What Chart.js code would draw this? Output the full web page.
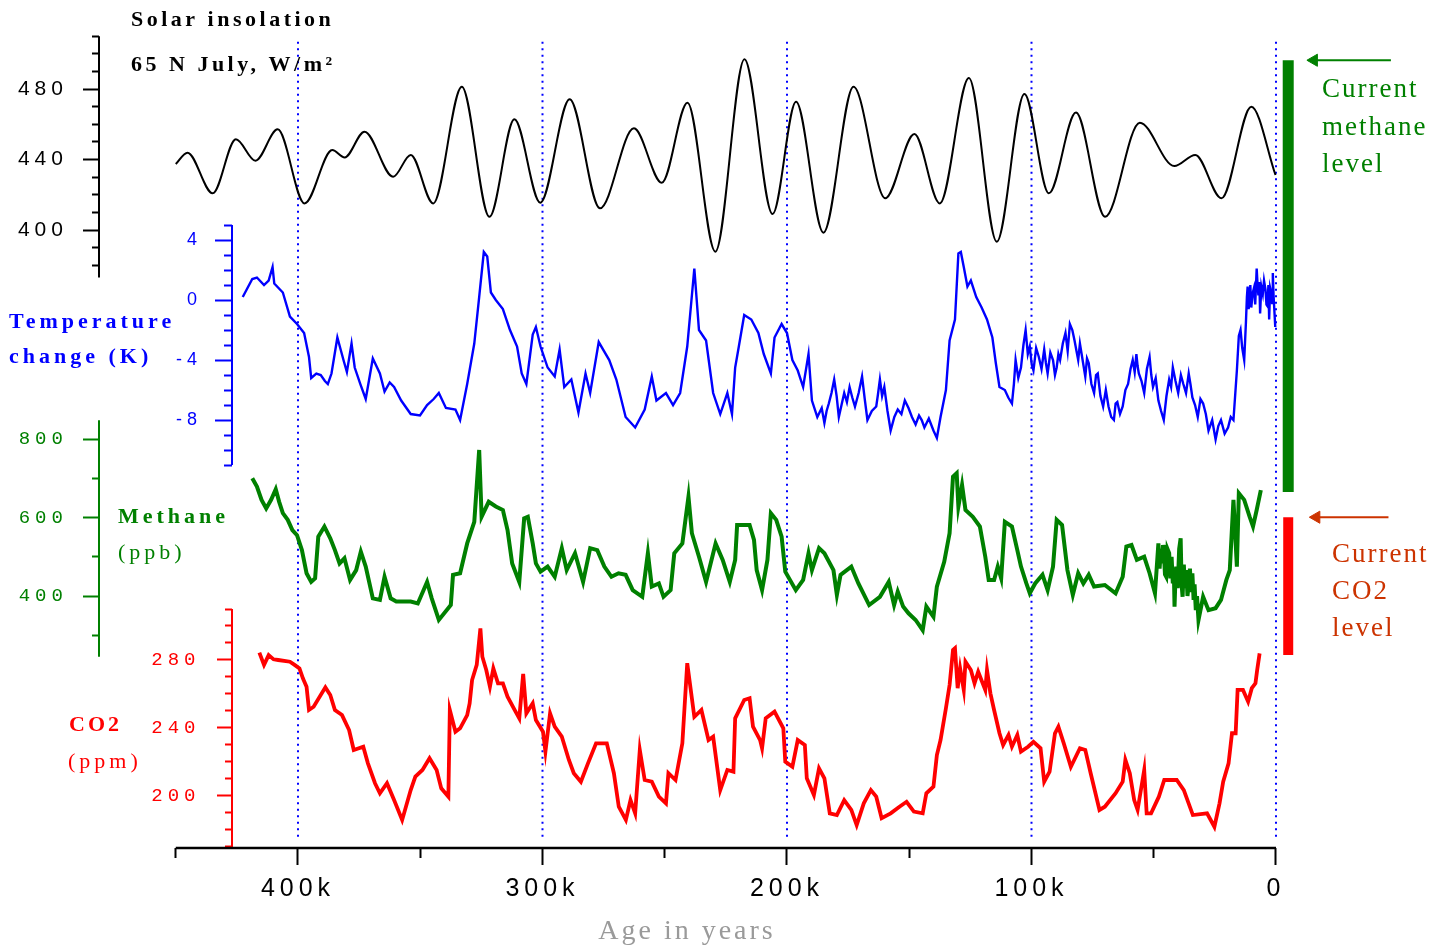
<!DOCTYPE html>
<html>
<head>
<meta charset="utf-8">
<title>Vostok ice core: insolation, temperature, methane and CO2</title>
<script src="https://cdn.jsdelivr.net/npm/chart.js@4.4.1/dist/chart.umd.min.js"></script>
<style>
  html, body { margin: 0; padding: 0; background: #fff; }
  #wrap { width: 1437px; height: 950px; position: relative; }
</style>
</head>
<body>
<div id="wrap"><canvas id="vostok"></canvas></div>
<script>
// ---- Series: [age in thousands of years, value] ----
const solarWm2 = [
  [450,437.4],[445.2,443.9],[434.9,420.8],[425.4,451.5],[417.4,439.3],[408.3,457.1],[397.3,415.1],
  [386.0,445.4],[380.9,441.2],[372.8,455.8],[361.1,430.2],[353.9,442.6],[344.7,415.1],[333.0,481.3],
  [321.7,407.5],[311.5,462.8],[300.9,415.5],[288.9,474.2],[276.5,412.3],[262.6,457.7],[251.2,426.8],
  [240.7,472.2],[229.3,387.7],[217.4,496.9],[205.9,409.1],[196.3,472.8],[185.1,398.5],[172.8,481.3],
  [159.8,418.0],[147.9,454.5],[137.5,415.1],[125.6,486.2],[114.2,393.4],[102.9,477.2],[92.9,420.8],
  [81.8,466.6],[69.9,407.5],[55.7,460.9],[41.6,436.3],[33.0,442.6],[22.3,418.0],[10.1,470.0],[0.2,431.2]
];

const temperatureK = [
  [422.6,0.2],[418.7,1.4],[416.8,1.5],[413.9,1.0],[412.0,1.3],[410.4,2.2],[409.7,1.1],[406.2,0.5],
  [403.3,-1.1],[400.4,-1.6],[397.5,-2.2],[395.5,-3.8],[394.6,-5.2],[392.5,-4.9],[390.7,-5.0],[389.0,-5.4],
  [387.8,-5.6],[386.3,-4.9],[383.9,-2.5],[381.4,-4.0],[380.0,-4.8],[378.1,-2.9],[376.8,-4.5],[374.5,-5.6],
  [372.3,-6.6],[369.4,-3.9],[366.5,-4.9],[364.6,-6.1],[362.5,-5.5],[360.7,-5.8],[357.8,-6.7],[353.9,-7.6],
  [350.1,-7.7],[347.2,-7.0],[344.5,-6.6],[342.4,-6.2],[339.5,-7.2],[335.6,-7.3],[333.7,-8.0],[330.8,-5.6],
  [327.9,-2.9],[325.9,0.2],[324.0,3.2],[322.6,2.9],[321.1,0.5],[319.1,0.0],[316.2,-0.6],[313.3,-2.0],
  [310.4,-3.1],[308.5,-4.9],[306.6,-5.6],[304.0,-2.3],[302.7,-1.8],[300.8,-3.1],[297.9,-4.5],[295.0,-5.1],
  [293.0,-3.3],[291.1,-5.8],[288.2,-5.3],[285.3,-7.5],[282.4,-4.9],[280.5,-6.2],[277.0,-2.8],[272.7,-4.0],
  [269.8,-5.3],[266.0,-7.8],[262.1,-8.5],[258.2,-7.3],[255.3,-5.1],[253.4,-6.7],[249.5,-6.2],[246.6,-7.0],
  [243.7,-6.2],[240.8,-3.1],[237.9,2.1],[236.0,-2.0],[233.1,-2.7],[230.2,-6.2],[227.3,-7.6],[224.4,-6.2],
  [222.5,-7.6],[221.2,-4.5],[219.7,-3.1],[217.5,-1.0],[214.6,-1.3],[211.7,-2.2],[209.5,-3.6],[206.6,-4.9],
  [205.1,-2.5],[202.2,-1.6],[200.0,-2.2],[197.8,-4.0],[195.6,-4.7],[193.4,-5.8],[191.2,-3.6],[189.8,-6.7],
  [187.6,-7.8],[185.8,-7.2],[184.7,-8.2],[183.8,-7.4],[182.9,-6.9],[181.8,-6.2],[180.7,-5.3],[179.7,-6.4],
  [178.8,-7.8],[177.7,-7.0],[176.6,-6.2],[175.5,-6.8],[174.4,-5.8],[173.3,-6.5],[172.2,-7.1],[170.7,-6.2],
  [169.3,-5.1],[168.2,-6.6],[167.1,-8.0],[165.3,-7.4],[163.5,-7.1],[162.8,-6.3],[162.0,-5.3],[161.1,-6.4],
  [160.2,-5.8],[158.9,-7.4],[157.6,-8.7],[156.1,-7.8],[154.7,-7.3],[153.2,-7.6],[151.8,-6.7],[150.3,-7.2],
  [148.9,-7.8],[147.4,-8.3],[146.0,-7.7],[144.9,-8.0],[143.8,-8.5],[142.0,-7.9],[140.1,-8.7],[138.7,-9.2],
  [137.2,-7.8],[135.0,-6.0],[133.5,-2.7],[131.3,-1.3],[129.9,3.1],[128.9,3.2],[127.7,2.2],[126.2,0.9],
  [124.8,1.3],[122.6,0.2],[120.4,-0.5],[118.2,-1.3],[116.0,-2.5],[114.6,-4.2],[113.1,-5.8],[110.9,-6.0],
  [109.5,-6.5],[108.0,-6.9],[107.2,-5.6],[106.5,-4.0],[105.4,-5.2],[104.3,-4.5],[103.3,-3.0],[102.4,-2.0],
  [101.5,-3.6],[100.7,-3.1],[99.9,-4.3],[99.2,-4.7],[98.1,-3.2],[97.0,-3.8],[95.9,-4.6],[94.8,-3.3],
  [94.1,-4.2],[93.4,-4.9],[92.3,-3.5],[91.2,-4.0],[90.4,-5.0],[89.7,-4.5],[89.0,-3.6],[88.3,-4.0],
  [87.2,-2.9],[86.1,-2.2],[85.2,-3.4],[84.3,-1.6],[83.3,-2.0],[82.4,-2.7],[81.6,-3.4],[80.9,-4.0],
  [80.2,-2.9],[79.5,-3.6],[78.7,-4.4],[78.0,-5.1],[77.3,-3.9],[76.6,-4.2],[75.5,-5.6],[74.4,-6.2],
  [73.6,-5.0],[72.9,-4.9],[71.8,-6.4],[70.7,-7.1],[69.6,-6.0],[68.5,-7.1],[67.4,-7.8],[66.3,-8.0],
  [65.6,-6.9],[64.9,-6.8],[63.8,-7.6],[62.7,-7.1],[61.6,-6.0],[60.5,-5.6],[59.5,-4.6],[58.6,-4.0],
  [57.8,-4.8],[57.1,-3.6],[56.6,-4.4],[56.1,-4.9],[55.0,-5.4],[53.9,-6.2],[52.8,-4.6],[51.7,-3.8],
  [51.0,-5.0],[50.3,-5.8],[49.2,-5.2],[48.1,-6.7],[47.0,-7.4],[45.9,-8.0],[44.8,-6.4],[43.7,-5.3],
  [42.9,-5.8],[42.2,-4.5],[41.1,-5.4],[40.0,-6.2],[38.9,-5.0],[37.9,-5.6],[36.8,-6.2],[35.7,-4.9],
  [35.0,-5.6],[34.2,-6.5],[33.1,-7.0],[32.0,-7.8],[30.9,-6.6],[29.8,-6.9],[28.7,-7.6],[27.6,-8.7],
  [26.1,-8.0],[24.7,-9.3],[23.6,-8.4],[22.5,-8.0],[21.0,-8.9],[19.6,-8.5],[18.5,-7.8],[17.4,-8.0],
  [16.0,-4.7],[15.2,-2.4],[14.5,-2.0],[13.8,-3.2],[13.0,-4.0],[12.3,-1.5],[11.9,0.2],[11.6,0.9],
  [11.2,-0.6],[10.9,-0.2],[10.5,1.0],[10.1,-0.5],[9.6,0.4],[9.0,0.8],[8.5,-0.3],[7.9,2.1],
  [7.5,0.9],[7.2,0.3],[6.8,1.2],[6.5,-0.9],[6.0,0.9],[5.4,0.4],[4.9,1.3],[4.3,0.7],
  [3.9,-0.3],[3.5,-0.4],[3.1,1.0],[2.8,-1.3],[2.4,0.8],[2.0,0.5],[1.6,-0.2],[1.3,1.8],
  [1.0,0.3],[0.7,-0.6],[0.3,-1.8]
];

const methanePpb = [
  [418.7,700],[416.8,679],[414.9,645],[413.0,623],[411.0,645],[409.1,672],[407.7,640],[406.2,611],
  [404.2,594],[402.3,568],[400.4,555],[398.4,517],[396.5,458],[394.6,436],[393.0,445],[391.7,551],
  [389.2,577],[386.8,547],[384.9,517],[383.0,483],[381.0,496],[378.7,441],[376.2,466],[374.3,513],
  [372.3,475],[369.4,394],[366.5,390],[364.6,449],[362.1,394],[359.8,386],[353.9,386],[351.0,381],
  [347.2,436],[345.3,394],[342.4,339],[337.5,377],[336.6,454],[333.7,458],[330.8,534],[327.9,589],
  [325.9,772],[324.9,602],[322.0,640],[319.1,628],[316.2,619],[314.3,568],[312.4,483],[309.5,436],
  [307.5,598],[306.0,602],[304.0,534],[302.7,483],[300.8,462],[297.9,475],[295.0,449],[292.1,522],
  [290.1,466],[286.7,509],[283.4,436],[280.5,522],[277.6,517],[274.7,475],[271.8,449],[268.9,458],
  [266.0,454],[263.1,415],[259.2,398],[256.9,509],[255.3,424],[252.4,432],[250.5,398],[247.6,415],
  [246.1,509],[242.8,534],[240.3,653],[238.9,560],[236.0,500],[233.1,436],[229.2,534],[226.3,492],
  [223.4,436],[221.2,492],[220.4,581],[215.3,581],[213.5,543],[212.4,466],[210.2,415],[208.0,492],
  [206.6,611],[204.4,594],[202.2,551],[200.7,462],[196.4,415],[193.4,441],[191.2,509],[189.8,466],
  [186.9,522],[184.7,509],[181.0,466],[179.6,403],[178.1,454],[173.7,475],[170.8,432],[166.4,377],
  [162.0,398],[158.4,436],[156.2,377],[154.7,411],[152.5,373],[150.3,356],[147.4,339],[144.5,313],
  [143.0,373],[140.1,347],[138.7,424],[135.7,487],[133.5,560],[132.1,704],[130.6,713],[129.9,628],
  [128.4,683],[127.0,619],[124.0,602],[121.1,577],[118.9,500],[117.5,441],[115.3,441],[113.8,475],
  [112.4,445],[110.9,589],[108.0,577],[105.8,517],[104.3,475],[102.1,432],[100.7,407],[98.5,432],
  [95.5,454],[93.4,415],[91.2,475],[89.7,594],[87.5,581],[85.3,466],[83.1,403],[80.9,458],
  [78.8,432],[76.6,454],[74.4,424],[70.0,428],[65.6,407],[62.7,449],[61.2,526],[59.1,530],
  [56.9,492],[53.9,500],[51.7,458],[49.5,407],[48.1,534],[47.6,470],[47.1,520],[46.6,483],
  [46.2,530],[45.9,517],[45.4,455],[44.9,449],[44.4,520],[43.7,509],[43.2,445],[42.7,500],
  [42.2,432],[41.8,470],[41.5,373],[41.1,450],[40.8,475],[40.2,420],[39.6,520],[39.0,547],
  [38.6,430],[38.2,398],[37.7,480],[37.2,420],[36.7,466],[36.2,400],[35.7,432],[35.2,470],
  [34.7,410],[34.2,458],[33.7,390],[33.3,430],[32.8,364],[32.3,400],[31.7,339],[29.8,398],
  [27.6,364],[24.7,369],[22.5,390],[20.3,441],[18.9,466],[17.4,645],[16.0,475],[15.2,662],
  [13.0,645],[10.8,602],[9.4,577],[7.9,619],[6.2,670]
];

const co2Ppm = [
  [415.8,284.3],[413.9,277.1],[412.0,282.9],[410.0,280.4],[408.1,280.0],[403.3,279.0],[401.4,277.1],
  [399.4,275.1],[398.0,269.2],[396.5,264.3],[395.5,250.6],[393.6,252.5],[388.8,263.9],[386.8,259.4],
  [384.9,250.6],[382.0,247.6],[379.1,238.8],[377.2,227.1],[373.3,229.0],[371.4,219.2],[368.5,207.5],
  [366.5,201.6],[363.6,207.5],[360.7,197.6],[357.4,185.9],[353.9,203.5],[352.0,211.4],[349.1,215.3],
  [346.2,222.2],[343.3,215.3],[341.4,204.5],[338.5,199.6],[337.9,250.6],[335.6,237.8],[333.7,239.8],
  [330.8,247.6],[329.8,254.5],[328.8,268.2],[326.9,277.1],[325.4,298.6],[324.6,281.9],[323.0,274.1],
  [321.5,264.3],[320.1,275.1],[318.2,266.3],[316.2,266.3],[314.3,258.4],[311.4,250.6],[309.5,245.7],
  [307.9,271.8],[306.6,248.6],[304.0,254.5],[302.7,244.7],[299.8,237.8],[298.8,226.1],[296.9,248.6],
  [295.0,240.8],[292.1,234.9],[289.2,221.2],[287.2,213.4],[284.3,208.4],[281.4,219.2],[278.1,231.0],
  [273.7,231.0],[270.8,213.4],[268.8,193.7],[265.9,185.9],[264.0,197.6],[262.1,189.8],[260.2,227.1],
  [258.2,209.4],[255.3,208.4],[252.4,199.6],[249.5,195.7],[248.5,213.4],[245.6,209.4],[242.8,231.0],
  [240.8,278.1],[237.9,246.6],[235.0,250.6],[232.1,232.9],[230.2,234.9],[227.3,203.5],[224.4,215.3],
  [221.9,214.3],[221.2,245.7],[217.5,256.5],[215.3,257.5],[213.9,240.8],[211.0,232.9],[210.2,228.1],
  [208.7,245.7],[205.1,249.6],[201.5,239.8],[200.7,220.2],[197.8,217.2],[195.6,232.9],[192.7,230.0],
  [191.9,210.4],[189.0,200.6],[186.9,216.3],[184.7,210.4],[182.5,189.8],[179.6,188.8],[176.6,197.6],
  [173.7,191.8],[171.5,182.9],[168.6,195.7],[165.7,203.5],[163.5,199.6],[161.3,186.9],[157.6,189.8],
  [154.0,193.7],[151.1,196.6],[148.1,190.8],[144.5,189.8],[143.0,201.6],[140.1,205.5],[138.7,224.1],
  [137.2,232.9],[135.0,251.6],[133.5,265.3],[132.1,285.9],[131.3,286.9],[130.2,263.4],[129.2,275.1],
  [127.7,262.4],[127.0,279.0],[124.8,274.1],[123.3,266.3],[121.8,273.1],[118.9,262.4],[118.2,274.1],
  [116.8,260.4],[115.3,250.6],[113.1,236.9],[111.6,230.0],[109.4,235.9],[108.0,229.0],[105.8,235.9],
  [104.3,226.1],[101.4,229.0],[99.2,231.9],[96.3,228.1],[94.8,208.4],[92.6,214.3],[90.4,236.9],
  [89.0,240.8],[86.8,231.0],[83.9,217.2],[80.2,228.1],[78.0,227.1],[75.8,213.4],[72.2,191.8],
  [70.0,193.7],[65.6,201.6],[62.7,208.4],[61.6,221.2],[59.8,213.4],[58.0,197.6],[56.6,191.8],
  [53.9,215.3],[52.9,189.8],[51.1,189.8],[47.9,199.6],[45.7,209.4],[40.6,209.4],[37.7,203.5],
  [34.0,188.8],[28.2,189.8],[25.2,181.9],[23.1,195.7],[21.6,208.4],[19.4,219.2],[18.0,236.9],
  [16.5,236.9],[15.7,262.4],[13.5,262.4],[11.4,255.5],[9.9,263.4],[8.4,266.3],[7.7,274.1],[6.7,283.9]
];

// Present-day levels, shown as bars beside the records
const methaneCurrentRange = [665, 1765];   // ppb
const co2CurrentRange = [283, 364];        // ppm
const currentBarAge = -5;                  // ka, just right of "0"

// Ages marked by dotted reference lines
const markerAges = [400, 300, 200, 100, 0];

// Tick values
const xMajorTicks = [400, 300, 200, 100, 0];
const xMinorTicks = [450, 350, 250, 150, 50];
const solarMajorTicks = [480, 440, 400];
const solarMinorTicks = [510, 500, 490, 470, 460, 450, 430, 420, 410, 390, 380];
const tempMajorTicks = [4, 0, -4, -8];
const tempMinorTicks = [5, 3, 2, 1, -1, -2, -3, -5, -6, -7, -9, -10, -11];
const ch4MajorTicks = [800, 600, 400];
const ch4MinorTicks = [700, 500, 300];
const co2MajorTicks = [280, 240, 200];
const co2MinorTicks = [310, 300, 290, 270, 260, 250, 230, 220, 210, 190, 180, 170];

// ---- Layout of the stacked panels ----
const AGE_LEFT = 521.88, AGE_RIGHT = -65.85;    // time scale spans the full canvas width
const BLUE = '#0000ff', GREEN = '#008000', RED = '#ff0000', RUST = '#cc3300';
const SANS = "'Liberation Sans', Arial, sans-serif";
const MONO = "'Liberation Mono', 'Courier New', monospace";
const SERIF = "'Liberation Serif', 'Times New Roman', serif";

const toPoints = arr => arr.map(([a, v]) => ({ x: a, y: v }));

function noPadding(s) { s.paddingTop = 0; s.paddingBottom = 0; s.paddingLeft = 0; s.paddingRight = 0; }

// One value axis = major tick marks, minor tick marks and a label column
function valueAxis(id, o) {
  const base = { type: 'linear', axis: 'y', min: o.min, max: o.max, border: { display: false }, afterFit: noPadding };
  const tickScale = (vals, len) => Object.assign({}, base, {
    position: { x: o.at },
    afterBuildTicks: s => { s.ticks = vals.map(v => ({ value: v })); },
    grid: { display: true, drawOnChartArea: false, drawTicks: true, tickLength: len, tickWidth: 2, tickColor: o.color },
    ticks: { display: false }
  });
  return {
    [id]: tickScale(o.major, o.majorLen),
    [id + 'Minor']: tickScale(o.minor, o.minorLen),
    [id + 'Labels']: Object.assign({}, base, {
      position: { x: o.labelAt },
      afterBuildTicks: s => { s.ticks = o.major.map(v => ({ value: v })); },
      grid: { display: false, drawTicks: false },
      ticks: { display: true, padding: 0, autoSkip: false, color: o.color, font: o.font, callback: v => String(v) }
    })
  };
}

const scales = Object.assign(
  {
    x: {
      type: 'linear', reverse: true, min: AGE_RIGHT, max: AGE_LEFT, position: 'bottom', weight: 1,
      afterBuildTicks: s => { s.ticks = xMajorTicks.map(v => ({ value: v })); },
      afterFit: s => { s.height = 102; noPadding(s); },
      border: { display: false },
      grid: { display: true, drawOnChartArea: false, drawTicks: true, tickLength: 17, tickWidth: 2, tickColor: '#000' },
      ticks: { autoSkip: false, maxRotation: 0, padding: 9, color: '#000', font: { family: SANS, size: 25 },
               callback: v => (v === 0 ? '0' : v + 'k') }
    },
    xMinor: {
      type: 'linear', reverse: true, min: AGE_RIGHT, max: AGE_LEFT, position: 'bottom', weight: 0,
      afterBuildTicks: s => { s.ticks = xMinorTicks.map(v => ({ value: v })); },
      afterFit: s => { s.height = 0; noPadding(s); },
      border: { display: false },
      grid: { display: true, drawOnChartArea: false, drawTicks: true, tickLength: 10, tickWidth: 2, tickColor: '#000' },
      ticks: { display: false }
    }
  },
  valueAxis('ySolar', { min: 49.36, max: 530.5, at: 481.5, labelAt: 494.1, color: '#000',
    major: solarMajorTicks, minor: solarMinorTicks, majorLen: 16, minorLen: 7, font: { family: SANS, size: 21 } }),
  valueAxis('yTemp', { min: -36.53, max: 20, at: 427, labelAt: 439.3, color: BLUE,
    major: tempMajorTicks, minor: tempMinorTicks, majorLen: 17, minorLen: 8, font: { family: SANS, size: 18 } }),
  valueAxis('yCH4', { min: -242.0, max: 1918.5, at: 481.5, labelAt: 494.1, color: GREEN,
    major: ch4MajorTicks, minor: ch4MinorTicks, majorLen: 16, minorLen: 7, font: { family: MONO, size: 19 } }),
  valueAxis('yCO2', { min: 169.41, max: 668.24, at: 427, labelAt: 439.9, color: RED,
    major: co2MajorTicks, minor: co2MinorTicks, majorLen: 15, minorLen: 7, font: { family: MONO, size: 19 } })
);

// Axis spines only cover each panel's own range
const spines = [
  { scale: 'ySolar', at: 481.5, from: 373, to: 510, color: '#000' },
  { scale: 'yTemp', at: 427, from: -11, to: 5, color: BLUE },
  { scale: 'yCH4', at: 481.5, from: 245, to: 848, color: GREEN },
  { scale: 'yCO2', at: 427, from: 170, to: 310, color: RED }
];

const captions = [
  { text: 'Solar insolation', x: 131, y: 20, font: 'bold 22px ' + SERIF, color: '#000', spacing: '3.5px' },
  { text: '65 N July, W/m\u00b2', x: 131, y: 65, font: 'bold 22px ' + SERIF, color: '#000', spacing: '3.5px' },
  { text: 'Temperature', x: 9, y: 322, font: 'bold 22px ' + SERIF, color: BLUE, spacing: '4px' },
  { text: 'change (K)', x: 9, y: 357, font: 'bold 22px ' + SERIF, color: BLUE, spacing: '4px' },
  { text: 'Methane', x: 118, y: 517, font: 'bold 22px ' + SERIF, color: GREEN, spacing: '4px' },
  { text: '(ppb)', x: 118, y: 553, font: '22px ' + SERIF, color: GREEN, spacing: '4px' },
  { text: 'CO2', x: 69, y: 725, font: 'bold 22px ' + SERIF, color: RED, spacing: '3px' },
  { text: '(ppm)', x: 68, y: 762, font: '22px ' + SERIF, color: RED, spacing: '4px' },
  { text: 'Current', x: 1322, y: 90, font: '27px ' + SERIF, color: GREEN, spacing: '2px' },
  { text: 'methane', x: 1322, y: 128, font: '27px ' + SERIF, color: GREEN, spacing: '2px' },
  { text: 'level', x: 1322, y: 165, font: '27px ' + SERIF, color: GREEN, spacing: '2px' },
  { text: 'Current', x: 1332, y: 555, font: '27px ' + SERIF, color: RUST, spacing: '2px' },
  { text: 'CO2', x: 1332, y: 592, font: '27px ' + SERIF, color: RUST, spacing: '2px' },
  { text: 'level', x: 1332, y: 629, font: '27px ' + SERIF, color: RUST, spacing: '2px' },
  { text: 'Age in years', x: 687, y: 932, font: '28px ' + SERIF, color: '#9a9a9a', spacing: '3px', align: 'center' }
];

const decor = {
  id: 'vostokDecor',
  beforeDraw(chart) { chart.ctx.letterSpacing = '5px'; },
  beforeDatasetsDraw(chart) {
    const ctx = chart.ctx;
    ctx.letterSpacing = '0px';
    const xs = chart.scales.x;
    ctx.save();
    ctx.lineCap = 'butt';
    for (const sp of spines) {
      const ys = chart.scales[sp.scale];
      const px = Math.round(xs.getPixelForValue(sp.at));
      ctx.strokeStyle = sp.color;
      ctx.lineWidth = 2;
      ctx.beginPath();
      ctx.moveTo(px, ys.getPixelForValue(sp.to));
      ctx.lineTo(px, ys.getPixelForValue(sp.from));
      ctx.stroke();
    }
    ctx.strokeStyle = '#000';
    ctx.lineWidth = 2.5;
    ctx.beginPath();
    ctx.moveTo(xs.getPixelForValue(450), xs.top);
    ctx.lineTo(xs.getPixelForValue(0), xs.top);
    ctx.stroke();
    ctx.restore();
  },
  afterDraw(chart) {
    const ctx = chart.ctx;
    for (const c of captions) {
      ctx.save();
      ctx.font = c.font;
      ctx.fillStyle = c.color;
      ctx.letterSpacing = c.spacing;
      ctx.textAlign = c.align || 'left';
      ctx.textBaseline = 'middle';
      ctx.fillText(c.text, c.x, c.y);
      ctx.restore();
    }
  }
};

const markerPoints = [];
markerAges.forEach(a => { markerPoints.push({ x: a, y: 176 }, { x: a, y: 645 }, { x: a, y: null }); });

const lineBase = { pointRadius: 0, fill: false, spanGaps: false };

new Chart(document.getElementById('vostok'), {
  type: 'line',
  data: {
    datasets: [
      Object.assign({}, lineBase, { label: 'Age markers', data: markerPoints, yAxisID: 'yCO2',
        borderColor: BLUE, borderWidth: 2, borderDash: [2, 4.5], order: 10 }),
      Object.assign({}, lineBase, { label: 'Solar insolation', data: toPoints(solarWm2), yAxisID: 'ySolar',
        borderColor: '#000', borderWidth: 2, cubicInterpolationMode: 'monotone', order: 4 }),
      Object.assign({}, lineBase, { label: 'Temperature change', data: toPoints(temperatureK), yAxisID: 'yTemp',
        borderColor: BLUE, borderWidth: 2.4, order: 3 }),
      Object.assign({}, lineBase, { label: 'Methane', data: toPoints(methanePpb), yAxisID: 'yCH4',
        borderColor: GREEN, borderWidth: 4, order: 2 }),
      Object.assign({}, lineBase, { label: 'CO2', data: toPoints(co2Ppm), yAxisID: 'yCO2',
        borderColor: RED, borderWidth: 3.8, order: 1 }),
      Object.assign({}, lineBase, { label: 'Current methane', yAxisID: 'yCH4', borderColor: GREEN, borderWidth: 11,
        borderCapStyle: 'butt', data: methaneCurrentRange.map(v => ({ x: currentBarAge, y: v })) }),
      Object.assign({}, lineBase, { label: 'Current CO2', yAxisID: 'yCO2', borderColor: RED, borderWidth: 10,
        borderCapStyle: 'butt', data: co2CurrentRange.map(v => ({ x: currentBarAge, y: v })) }),
      { label: 'Methane arrow', yAxisID: 'yCH4', borderColor: GREEN, backgroundColor: GREEN, borderWidth: 2,
        pointStyle: 'triangle', rotation: -90, pointRadius: [7, 0], pointBorderWidth: 1, pointBackgroundColor: GREEN,
        data: [{ x: -15.5, y: methaneCurrentRange[1] }, { x: -47, y: methaneCurrentRange[1] }] },
      { label: 'CO2 arrow', yAxisID: 'yCO2', borderColor: RUST, backgroundColor: RUST, borderWidth: 2,
        pointStyle: 'triangle', rotation: -90, pointRadius: [7, 0], pointBorderWidth: 1, pointBackgroundColor: RUST,
        data: [{ x: -16.5, y: co2CurrentRange[1] }, { x: -46, y: co2CurrentRange[1] }] }
    ]
  },
  options: {
    responsive: true,
    maintainAspectRatio: false,
    devicePixelRatio: 1,
    animation: false,
    events: [],
    layout: { padding: 0, autoPadding: false },
    plugins: { legend: { display: false }, tooltip: { enabled: false } },
    scales: scales
  },
  plugins: [decor]
});
</script>
</body>
</html>
